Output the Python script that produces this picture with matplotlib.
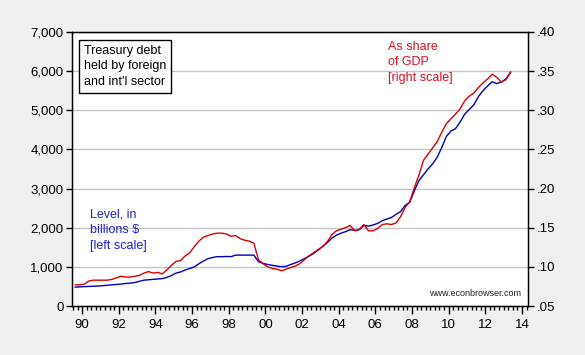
import numpy as np
import matplotlib
matplotlib.use("Agg")
import matplotlib.pyplot as plt
from matplotlib.ticker import FuncFormatter, MultipleLocator

plt.rcParams["font.family"] = ["Liberation Sans", "DejaVu Sans"]

BG = "#f0f0f0"
BLUE = "#0000b4"
RED = "#d80000"
GRID = "#c4c4c4"

# quarterly observations, 1989Q3 .. 2013Q2
start_year, start_q = 1989, 3

# foreign & int'l holdings of Treasury debt, billions $ (left scale)
level = [480, 490,
         495, 500, 505, 510,
         520, 530, 540, 550,
         560, 575, 585, 600,
         630, 660, 670, 680,
         690, 700, 730, 780,
         840, 870, 920, 960,
         1000, 1080, 1150, 1210,
         1240, 1260, 1260, 1265,
         1260, 1300, 1300, 1300,
         1300, 1300, 1130, 1090,
         1060, 1040, 1020, 1005,
         1010, 1060, 1100, 1150,
         1210, 1270, 1340, 1430,
         1520, 1620, 1730, 1810,
         1860, 1900, 1950, 1930,
         1950, 2060, 2040, 2070,
         2110, 2180, 2220, 2260,
         2340, 2410, 2570, 2650,
         2940, 3200, 3350, 3500,
         3630, 3800, 4050, 4330,
         4470, 4530, 4700, 4900,
         5020, 5140, 5350, 5500,
         5620, 5730, 5680, 5720,
         5800, 5960]

# same holdings as share of GDP (right scale)
share = [.077, .077,
         .078, .082, .083, .083,
         .083, .083, .084, .086,
         .088, .087, .087, .088,
         .089, .092, .094, .092,
         .093, .091, .096, .102,
         .107, .108, .114, .118,
         .126, .133, .138, .140,
         .142, .143, .143, .142,
         .139, .140, .136, .134,
         .133, .130, .109, .104,
         .100, .098, .097, .095,
         .097, .099, .101, .104,
         .109, .114, .118, .122,
         .126, .132, .141, .146,
         .148, .150, .153, .146,
         .148, .154, .146, .146,
         .149, .154, .155, .154,
         .156, .164, .176, .183,
         .201, .217, .236, .244,
         .252, .260, .272, .283,
         .289, .295, .302, .312,
         .318, .322, .329, .335,
         .340, .346, .342, .336,
         .339, .349]

n = len(level)
t = start_year + (start_q - 1) / 4 + 0.125 + np.arange(n) / 4

left_ticks = [0, 1000, 2000, 3000, 4000, 5000, 6000, 7000]
right_ticks = [.05, .10, .15, .20, .25, .30, .35, .40]
year_labels = list(range(1990, 2015, 2))

fig = plt.figure(figsize=(5.85, 3.55), dpi=100)
fig.patch.set_facecolor(BG)
ax = fig.add_axes([0.1231, 0.138, 0.7795, 0.772])
ax.set_facecolor("white")

ax.set_xlim(1989.45, 2014.33)
ax.set_ylim(0, 7000)
ax.set_yticks(left_ticks)
ax.yaxis.set_major_formatter(FuncFormatter(lambda v, p: f"{int(v):,}"))
ax.grid(True, axis="y", color=GRID, linewidth=1.0)
ax.set_axisbelow(True)

ax.set_xticks(year_labels)
ax.set_xticklabels([f"{y % 100:02d}" for y in year_labels])
ax.xaxis.set_minor_locator(MultipleLocator(0.25))
ax.tick_params(axis="x", which="major", length=6, width=1, labelsize=9.5, pad=3)
ax.tick_params(axis="x", which="minor", length=3, width=1)
ax.tick_params(axis="y", length=4, width=1, labelsize=9.5, pad=2)
for s in ax.spines.values():
    s.set_color("black")
    s.set_linewidth(1.0)

ax.plot(t, level, color=BLUE, linewidth=1.0)

ax2 = ax.twinx()
ax2.set_ylim(.05, .40)
ax2.set_yticks(right_ticks)
ax2.yaxis.set_major_formatter(FuncFormatter(lambda v, p: f"{v:.2f}"[1:]))
ax2.tick_params(axis="y", length=4, width=1, labelsize=9.5, pad=2)
ax2.plot(t, share, color=RED, linewidth=1.0)

ax.text(0.026, 0.953, "Treasury debt\nheld by foreign\nand int'l sector",
        transform=ax.transAxes, ha="left", va="top", fontsize=9,
        linespacing=1.4, zorder=6,
        bbox=dict(boxstyle="square,pad=0.4", facecolor="white", edgecolor="black", linewidth=1))
ax.text(0.04, 0.355, "Level, in\nbillions $\n[left scale]", transform=ax.transAxes,
        ha="left", va="top", fontsize=9, color="#2222cc", linespacing=1.4)
ax.text(0.693, 0.968, "As share\nof GDP\n[right scale]", transform=ax.transAxes,
        ha="left", va="top", fontsize=9, color="#dd1122", linespacing=1.4)
ax.text(0.985, 0.045, "www.econbrowser.com", transform=ax.transAxes,
        ha="right", va="center", fontsize=6.5, color="#222222")

fig.savefig("out.png", dpi=100, facecolor=BG)
